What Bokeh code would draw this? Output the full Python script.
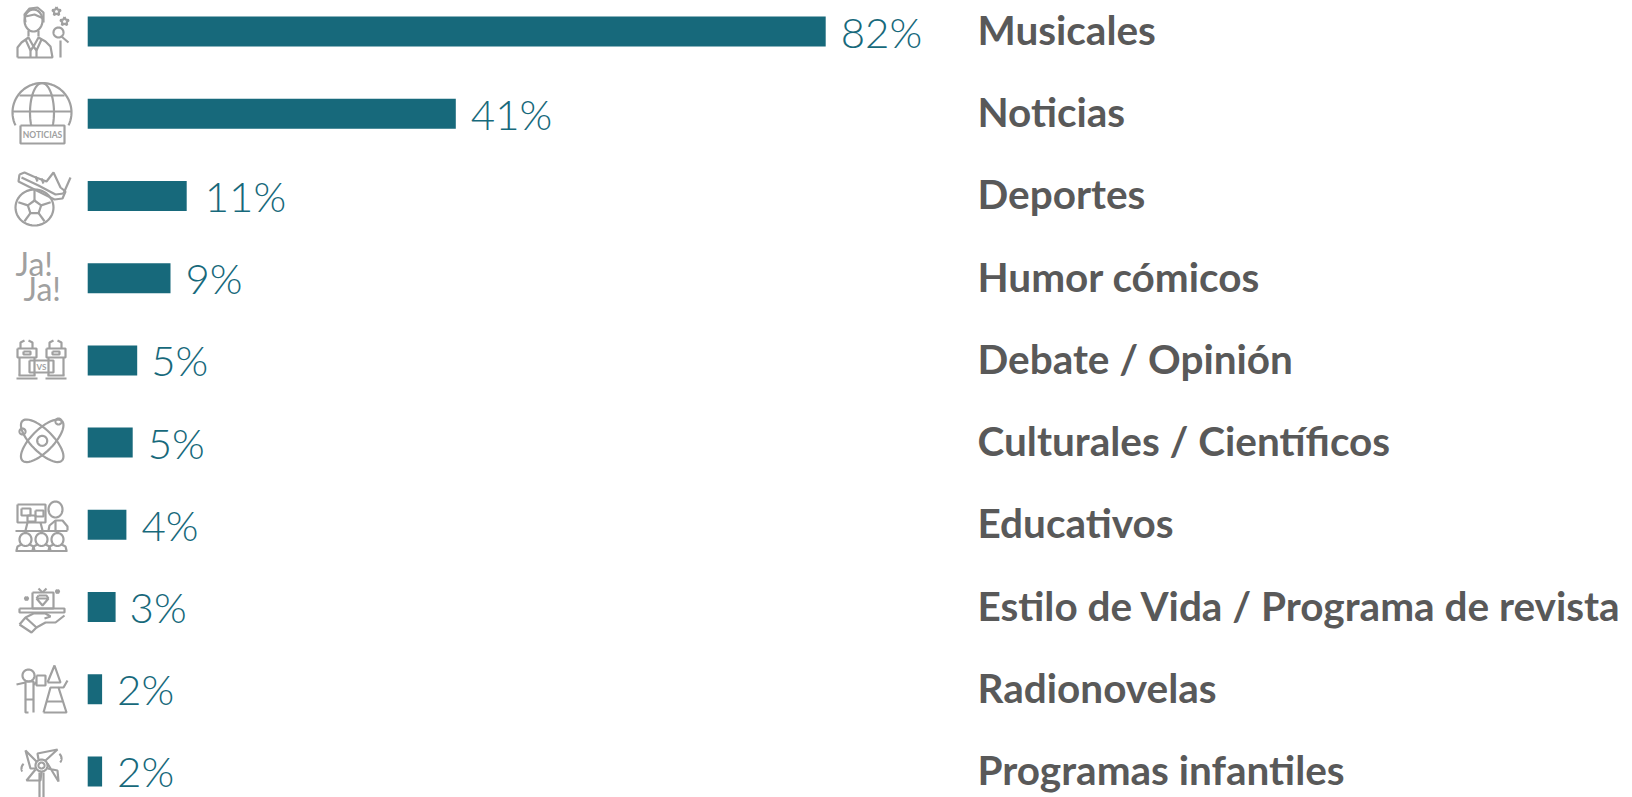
import math
from bokeh.plotting import figure
from bokeh.models import ColumnDataSource, Range1d
from bokeh.core.properties import value
from bokeh.embed import file_html
from bokeh.resources import INLINE

categories = ["Musicales", "Noticias", "Deportes", "Humor cómicos", "Debate / Opinión",
              "Culturales / Científicos", "Educativos", "Estilo de Vida / Programa de revista",
              "Radionovelas", "Programas infantiles"]
bar_values = [82, 40.9, 11, 9.2, 5.5, 5, 4.3, 3.1, 1.6, 1.6]
labels = ["82%", "41%", "11%", "9%", "5%", "5%", "4%", "3%", "2%", "2%"]
label_gaps = [15, 15, 18, 15, 14, 15, 15, 14, 15, 15]

BAR = "#17697B"
TXT = "#595959"
GRAY = "#A0A0A0"
W, H = 1632, 797
X0, PX = 87.2, 9.0
Y0, PY = 31.0, 82.22

p = figure(width=W, height=H, output_backend="svg", toolbar_location=None,
           x_range=Range1d(-X0 / PX, (W - X0) / PX),
           y_range=Range1d((H - Y0) / PY, -Y0 / PY),
           min_border=0, outline_line_color=None)
p.xaxis.visible = False
p.yaxis.visible = False
p.grid.visible = False
p.extra_x_ranges["px"] = Range1d(0, W)
p.extra_y_ranges["px"] = Range1d(H, 0)

rows = list(range(len(categories)))
src = ColumnDataSource(dict(row=rows, v=bar_values, cat=categories, lab=labels, gap=label_gaps))
p.hbar(y="row", left=0, right="v", height=30 / PY, color=BAR, line_color=None, source=src)
p.text(x="v", y="row", text="lab", source=src, x_offset="gap", y_offset=0,
       text_font=value("Lato Light"), text_font_size="42px", text_color=BAR,
       text_baseline="alphabetic")
p.text(x=[977] * len(rows), y=rows, text=categories, x_range_name="px",
       y_offset=-2, text_font=value("Lato"), text_font_style="bold", text_font_size="40.5px",
       text_color=TXT, text_baseline="alphabetic")

# ---- decorative line icons, in page pixels
paths = []
def L(*pts):
    paths.append(pts)
def ell(cx, cy, rx, ry, rot=0, a0=0, a1=360):
    n = 48
    r = math.radians(rot)
    pts = []
    for i in range(n + 1):
        t = math.radians(a0 + (a1 - a0) * i / n)
        x, y = rx * math.cos(t), ry * math.sin(t)
        pts.append((cx + x * math.cos(r) - y * math.sin(r), cy + x * math.sin(r) + y * math.cos(r)))
    paths.append(pts)
def rect(x0, y0, x1, y1):
    L((x0, y0), (x1, y0), (x1, y1), (x0, y1), (x0, y0))
def star(cx, cy, r):
    pts = []
    for i in range(11):
        a = math.radians(-90 + 36 * i)
        rr = r if i % 2 == 0 else r * 0.5
        pts.append((cx + rr * math.cos(a), cy + rr * math.sin(a)))
    paths.append(pts)

# singer
ell(33, 20, 9, 11)
L((25, 22), (24, 14), (29, 8), (37, 7), (43, 12), (43, 22))
L((25, 16), (34, 14), (43, 18))
L((28, 30), (28, 36)); L((38, 30), (38, 36))
L((17, 57), (17, 47), (21, 42), (28, 37), (33, 46), (38, 37), (45, 41), (50, 46), (52, 57), (17, 57))
L((25, 39), (30, 50), (33, 46), (36, 50), (41, 39)); L((30, 50), (30, 57)); L((36, 50), (36, 57))
ell(58, 32, 5, 5); L((61, 36), (68, 42)); L((60, 40), (60, 57))
star(56, 11, 4.5); star(64, 21, 4.5)
# globe
ell(41.5, 112, 29.5, 29.5, 0, 154, 386)
ell(41.5, 112, 12, 29.5, 0, 154, 386)
L((19, 95), (64, 95)); L((12, 111), (71, 111))
rect(20, 125, 64, 143)
# football
ell(34, 207, 19, 18)
pent = [(34 + 7 * math.cos(math.radians(-90 + 72 * i)), 207 + 7 * math.sin(math.radians(-90 + 72 * i))) for i in range(6)]
paths.append(pent)
for i in range(5):
    x, y = pent[i]
    L((x, y), (34 + 17 * math.cos(math.radians(-90 + 72 * i)), 207 + 17 * math.sin(math.radians(-90 + 72 * i))))
L((19, 174), (24, 172), (33, 176), (46, 181), (53, 172), (60, 187), (65, 191), (62, 198), (54, 199), (36, 190), (18, 181), (19, 174))
L((21, 177), (38, 185), (55, 194), (63, 193)); L((63, 193), (70, 177))
L((35, 176), (37, 181)); L((41, 178), (43, 183))
# podiums
for a in (17, 46):
    rect(a, 348, a + 19, 357); L((a + 2, 357), (a + 2, 375)); L((a + 17, 357), (a + 17, 375))
    L((a - 1, 378), (a + 20, 378)); L((a + 1, 375), (a + 18, 375))
    L((a + 3, 348), (a + 3, 342), (a + 7, 340)); L((a + 15, 348), (a + 15, 342), (a + 11, 340))
    rect(a + 6, 351, a + 13, 354)
rect(29, 360, 53, 372)
# atom
ell(41.7, 440.3, 28, 11, 45); ell(41.7, 440.3, 28, 11, -45); ell(41.7, 440.3, 5, 5)
ell(58, 421, 3, 3); ell(22, 431, 3, 3)
# classroom
rect(17, 504, 45, 522); rect(21, 508, 30, 515); rect(35, 510, 43, 516); rect(27, 515, 35, 521)
L((27, 522), (25, 530)); L((40, 522), (42, 530))
ell(55, 509, 7, 8); L((48, 530), (49, 525), (55, 520), (62, 520), (67, 526), (67, 530)); L((55, 520), (55, 530))
L((15, 530.5), (67, 530.5))
for cx in (25, 41, 57):
    ell(cx, 539, 6, 6.5); L((cx - 9, 550), (cx - 8, 546), (cx - 4, 544)); L((cx + 9, 550), (cx + 8, 546), (cx + 4, 544))
L((15, 550.5), (67, 550.5))
# gift on a hand
L((19, 608), (64, 608), (64, 612), (19, 612), (19, 608))
rect(32, 592, 53, 608)
L((36, 598), (48, 598), (42, 605), (36, 598)); L((38, 595), (46, 595), (48, 598)); L((38, 595), (36, 598))
L((42, 592), (38, 588)); L((42, 592), (46, 588))
L((19, 624), (31, 632), (36, 627), (25, 617), (19, 624))
L((25, 617), (33, 613), (45, 613), (50, 616), (44, 618)); L((36, 627), (45, 622), (55, 622), (64, 615))
star(57, 591, 2); star(26, 598, 2)
# child and puppet
ell(28, 675, 6, 6); rect(25, 681, 33, 699); L((25, 699), (25, 712), (28, 712)); L((33, 699), (33, 712))
L((16, 684), (25, 682)); rect(36, 675, 45, 685); L((33, 684), (36, 682))
L((47, 682), (54, 665), (60, 682), (47, 682))
L((43, 712), (50, 687), (58, 687), (66, 712), (43, 712)); L((46, 701), (62, 701)); L((58, 687), (63, 687), (67, 680))
# pinwheel
ell(41, 765, 6, 6); ell(41, 765, 3, 3)
L((39, 772), (39, 797)); L((43, 772), (43, 797))
L((36, 761), (25, 750), (30, 768), (36, 768)); L((45, 760), (57, 749), (37, 753), (38, 759))
L((47, 763), (58, 781), (57, 770), (47, 768)); L((35, 769), (26, 780), (40, 780), (41, 771))
ell(27, 768, 6, 6, 0, 150, 230); ell(55, 758, 6, 6, 0, -50, 40)

p.multi_line(xs=[[q[0] for q in s] for s in paths], ys=[[q[1] for q in s] for s in paths],
             x_range_name="px", y_range_name="px", line_color=GRAY, line_width=2.2)

# texts inside icons
p.text(x=[15, 23], y=[263, 288], text=["Ja!", "Ja!"], x_range_name="px", y_range_name="px",
       text_font=value("Lato"), text_font_size="32px", text_color=GRAY, text_baseline="alphabetic")
p.text(x=[42], y=[134], text=["NOTICIAS"], x_range_name="px", y_range_name="px", text_font=value("Lato"),
       text_font_style="bold", text_font_size="8.5px", text_color=GRAY, text_align="center", text_baseline="middle")
p.text(x=[41], y=[366], text=["VS"], x_range_name="px", y_range_name="px", text_font=value("Lato"),
       text_font_style="bold", text_font_size="8px", text_color=GRAY, text_align="center", text_baseline="middle")

open("out.html", "w").write(file_html(p, INLINE))
